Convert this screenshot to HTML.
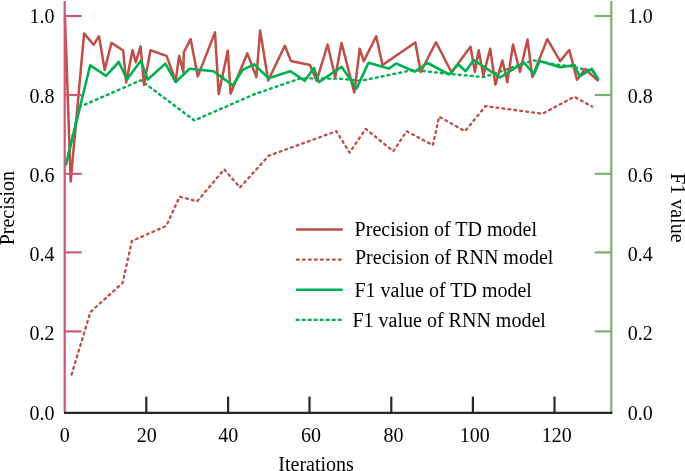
<!DOCTYPE html>
<html><head><meta charset="utf-8"><style>
html,body{margin:0;padding:0;background:#fff;width:685px;height:471px;overflow:hidden;}
svg{display:block;font-family:"Liberation Serif",serif;}
</style></head><body><div style="will-change:transform;width:685px;height:471px"><svg width="685" height="471" viewBox="0 0 685 471"><polyline points="70.7,377.5 90.4,312 122.6,283 131.9,241 166.3,225.9 179.6,196.6 197.2,201.3 224.2,169.3 239.9,187.5 268.8,155.7 336.4,131.2 349.6,152.6 365.7,128.9 393.4,151.2 406.6,131.2 432.9,145.2 439.1,116.6 465,131.2 485.5,106.1 542.4,113.8 574.2,96.8 592.2,106.6" fill="none" stroke="#be4e46" stroke-width="2.3" stroke-dasharray="1.9 4.1" stroke-dashoffset="2.9" stroke-linecap="round" stroke-linejoin="round"/><polyline points="66,164.5 79.4,106.9 140.8,80.3 194.3,120.4 255,94 300.6,78.3 340,78.7 360.4,80.9 413,70 449.4,73.9 483.6,77.1 496.3,72.8 509.4,68.4 517.3,65.4 533.7,60.3 554.6,64.3 570.7,66.3 586,69.9 591.8,70 598.5,79.8" fill="none" stroke="#00b050" stroke-width="2.4" stroke-dasharray="1.9 4.1" stroke-dashoffset="1.05" stroke-linecap="round" stroke-linejoin="round"/><polyline points="65,18 70.7,181.5 84.1,33.4 93.6,44.8 99,36.2 104.7,70 111.4,42.9 123.2,50.5 126.2,82.6 132.5,50.2 135.8,62.2 140.6,46.4 144,85 150.5,50.3 166.5,55.9 175.7,80.8 179.1,55.9 183.3,72 183.9,52.1 190.6,39.1 197.8,76.4 215,32.4 218.7,94.1 227.8,50.6 230.6,93.6 247.3,53.4 256.4,77 260.1,30.5 268.2,80.5 284.8,45.8 291,61.1 310,64.9 316.6,80.8 327.6,44.5 335.2,77.3 341.5,42.9 354.3,92.6 359.7,48.7 363.7,61.2 376.2,36.2 382.5,65 415.3,42.5 420.7,72 436,42.3 451.5,72.3 470.5,46.8 474.9,72 478.7,50.2 483.3,75.4 490.2,48.7 495.4,84.6 502.4,60.4 507.3,82.2 513,44.5 520,72 527.5,39.5 532.3,77 547.3,39.1 560.1,61.1 569.3,50 577,79.8 585.2,69 598.4,81.2" fill="none" stroke="#be4e46" stroke-width="2.5" stroke-linejoin="round"/><polyline points="66,164.5 90.2,65.3 106,75.8 118.8,62 127,79.5 140.8,60.8 147.7,79.5 165.4,63.6 175.7,82 189.6,68.7 213.5,71.2 232.9,85.4 242.5,70 254,64.3 268.6,78.3 290.2,71.2 304.9,80.8 314,67.8 318.8,82.1 341.5,66.8 356.6,88.4 368.5,62.7 388.8,68.6 396.2,63.5 414.6,71.6 427.6,63 449.2,74.5 458.2,64.3 465.6,71.2 473.8,60.1 500.1,77.5 523.8,62.4 534,74.2 539.5,60.9 560.4,67.3 574.5,65 579.5,76.3 591.8,68.9 598.5,79.8" fill="none" stroke="#00b050" stroke-width="2.6" stroke-linejoin="round"/><line x1="64.7" y1="1" x2="64.7" y2="412" stroke="#ca5876" stroke-width="2.2"/><line x1="611.3" y1="1" x2="611.3" y2="412" stroke="#7cb072" stroke-width="2.2"/><line x1="64" y1="16" x2="81.6" y2="16" stroke="#ca5876" stroke-width="2.2"/><line x1="594.7" y1="16" x2="612" y2="16" stroke="#7cb072" stroke-width="2.2"/><line x1="64" y1="95" x2="81.6" y2="95" stroke="#ca5876" stroke-width="2.2"/><line x1="594.7" y1="95" x2="612" y2="95" stroke="#7cb072" stroke-width="2.2"/><line x1="64" y1="173.8" x2="81.6" y2="173.8" stroke="#ca5876" stroke-width="2.2"/><line x1="594.7" y1="173.8" x2="612" y2="173.8" stroke="#7cb072" stroke-width="2.2"/><line x1="64" y1="252.4" x2="81.6" y2="252.4" stroke="#ca5876" stroke-width="2.2"/><line x1="594.7" y1="252.4" x2="612" y2="252.4" stroke="#7cb072" stroke-width="2.2"/><line x1="64" y1="331.4" x2="81.6" y2="331.4" stroke="#ca5876" stroke-width="2.2"/><line x1="594.7" y1="331.4" x2="612" y2="331.4" stroke="#7cb072" stroke-width="2.2"/><line x1="64" y1="412.9" x2="612.5" y2="412.9" stroke="#272727" stroke-width="2.4"/><line x1="146.3" y1="396.6" x2="146.3" y2="412" stroke="#272727" stroke-width="2.2"/><line x1="228.1" y1="396.6" x2="228.1" y2="412" stroke="#272727" stroke-width="2.2"/><line x1="309.5" y1="396.6" x2="309.5" y2="412" stroke="#272727" stroke-width="2.2"/><line x1="391.3" y1="396.6" x2="391.3" y2="412" stroke="#272727" stroke-width="2.2"/><line x1="472.9" y1="396.6" x2="472.9" y2="412" stroke="#272727" stroke-width="2.2"/><line x1="554.5" y1="396.6" x2="554.5" y2="412" stroke="#272727" stroke-width="2.2"/><g font-family="Liberation Serif" font-size="20" fill="#000"><text x="54.5" y="23.3" text-anchor="end">1.0</text><text x="627.7" y="23.3">1.0</text><text x="54.5" y="102.5" text-anchor="end">0.8</text><text x="627.7" y="102.5">0.8</text><text x="54.5" y="181.8" text-anchor="end">0.6</text><text x="627.7" y="181.8">0.6</text><text x="54.5" y="261" text-anchor="end">0.4</text><text x="627.7" y="261">0.4</text><text x="54.5" y="340.3" text-anchor="end">0.2</text><text x="627.7" y="340.3">0.2</text><text x="54.5" y="419.5" text-anchor="end">0.0</text><text x="627.7" y="419.5">0.0</text><text x="64.8" y="442" text-anchor="middle">0</text><text x="146.7" y="442" text-anchor="middle">20</text><text x="228.3" y="442" text-anchor="middle">40</text><text x="310.9" y="442" text-anchor="middle">60</text><text x="393.5" y="442" text-anchor="middle">80</text><text x="474.7" y="442" text-anchor="middle">100</text><text x="556.8" y="442" text-anchor="middle">120</text><text x="316.1" y="471.3" text-anchor="middle">Iterations</text><text transform="translate(14.3,208.1) rotate(-90)" text-anchor="middle">Precision</text><text transform="translate(670.8,207.8) rotate(90)" text-anchor="middle">F1 value</text><text x="354.6" y="236">Precision of TD model</text><text x="355" y="263.8">Precision of RNN model</text><text x="354.5" y="297.1">F1 value of TD model</text><text x="352.5" y="326.7">F1 value of RNN model</text></g><line x1="296.9" y1="229.5" x2="342" y2="229.5" stroke="#be4e46" stroke-width="2.3" stroke-linecap="round"/><line x1="296.9" y1="259.6" x2="342" y2="259.6" stroke="#be4e46" stroke-width="2.3" stroke-dasharray="1.9 4.1" stroke-linecap="round"/><line x1="297" y1="289.8" x2="341.8" y2="289.8" stroke="#00b050" stroke-width="2.6" stroke-linecap="round"/><line x1="295.7" y1="319.9" x2="342.5" y2="319.9" stroke="#00b050" stroke-width="2.4" stroke-dasharray="4 2"/></svg></div></body></html>
